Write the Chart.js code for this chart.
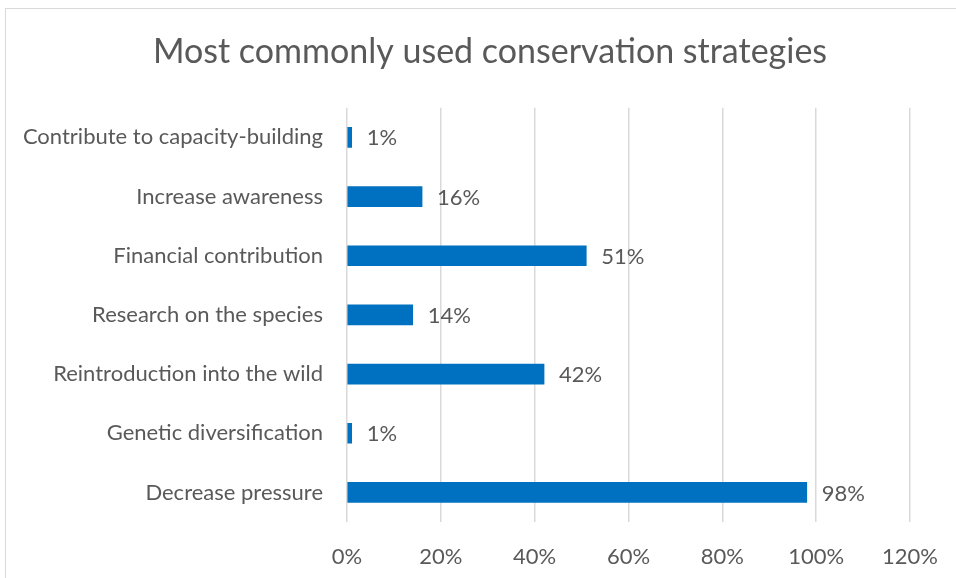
<!DOCTYPE html>
<html>
<head>
<meta charset="utf-8">
<script src="https://cdn.jsdelivr.net/npm/chart.js@4"></script>
<style>
  html, body { margin: 0; padding: 0; background: #ffffff; overflow: hidden; }
  #wrap { position: relative; width: 956px; height: 578px; }
  #marco { position: absolute; left: 5px; top: 8px; width: 1000px; height: 620px; border: 1px solid #d9d9d9; box-sizing: border-box; pointer-events: none; }
</style>
</head>
<body>
<div id="wrap">
  <canvas id="estrategiasChart" width="956" height="578"></canvas>
  <div id="marco"></div>
</div>
<script>
document.addEventListener("DOMContentLoaded", () => {

    const categorias = [
        "Contribute to capacity-building",
        "Increase awareness",
        "Financial contribution",
        "Research on the species",
        "Reintroduction into the wild",
        "Genetic diversification",
        "Decrease pressure"
    ];
    const porcentajes = [1, 16, 51, 14, 42, 1, 98];
    const ticksX = [0, 20, 40, 60, 80, 100, 120];

    const gris = "#595959";
    const fuente = "Lato, 'Open Sans', sans-serif";

    // etiquetas de valor a la derecha de cada barra
    const etiquetas = {
        id: "etiquetas",
        afterLayout(chart) {
            // el título va centrado en todo el marco, no sobre el área con padding
            if (chart.titleBlock) {
                chart.titleBlock.left = 24;
                chart.titleBlock.right = 956;
            }
        },
        afterDatasetsDraw(chart) {
            const ctx = chart.ctx;
            const meta = chart.getDatasetMeta(0);
            ctx.save();
            ctx.fillStyle = gris;
            ctx.font = "22px " + fuente;
            ctx.textAlign = "left";
            ctx.textBaseline = "middle";
            meta.data.forEach((barra, i) => {
                ctx.fillText(porcentajes[i] + "%", barra.x + 15, barra.y + 1);
            });
            ctx.restore();
        }
    };

    const canvas = document.getElementById("estrategiasChart");
    new Chart(canvas, {
        type: "bar",
        data: {
            labels: categorias,
            datasets: [{
                data: porcentajes,
                backgroundColor: "#0070C0",
                barThickness: 20
            }]
        },
        options: {
            indexAxis: "y",
            responsive: false,
            animation: false,
            layout: { padding: { left: 0, right: 46, top: 0, bottom: 0 } },
            plugins: {
                legend: { display: false },
                tooltip: { enabled: false },
                title: {
                    display: true,
                    text: "Most commonly used conservation strategies",
                    color: gris,
                    font: { family: fuente, size: 34, weight: "normal" },
                    padding: { top: 32, bottom: 35 }
                }
            },
            scales: {
                x: {
                    min: 0,
                    max: 120,
                    afterBuildTicks(scale) {
                        scale.ticks = ticksX.map(v => ({ value: v }));
                    },
                    afterFit(scale) { scale.height = 56; },
                    grid: { color: "#d9d9d9", lineWidth: 1.5, drawTicks: true, tickLength: 22, tickColor: "rgba(0,0,0,0)" },
                    border: { display: false },
                    ticks: {
                        color: gris,
                        padding: 0,
                        font: { family: fuente, size: 22 },
                        callback: v => v + "%"
                    }
                },
                y: {
                    afterFit(scale) { scale.width = 347; },
                    grid: { display: false },
                    border: { display: false },
                    ticks: {
                        color: gris,
                        padding: 16,
                        font: { family: fuente, size: 22 }
                    }
                }
            }
        },
        plugins: [etiquetas]
    });

});
</script>
</body>
</html>
